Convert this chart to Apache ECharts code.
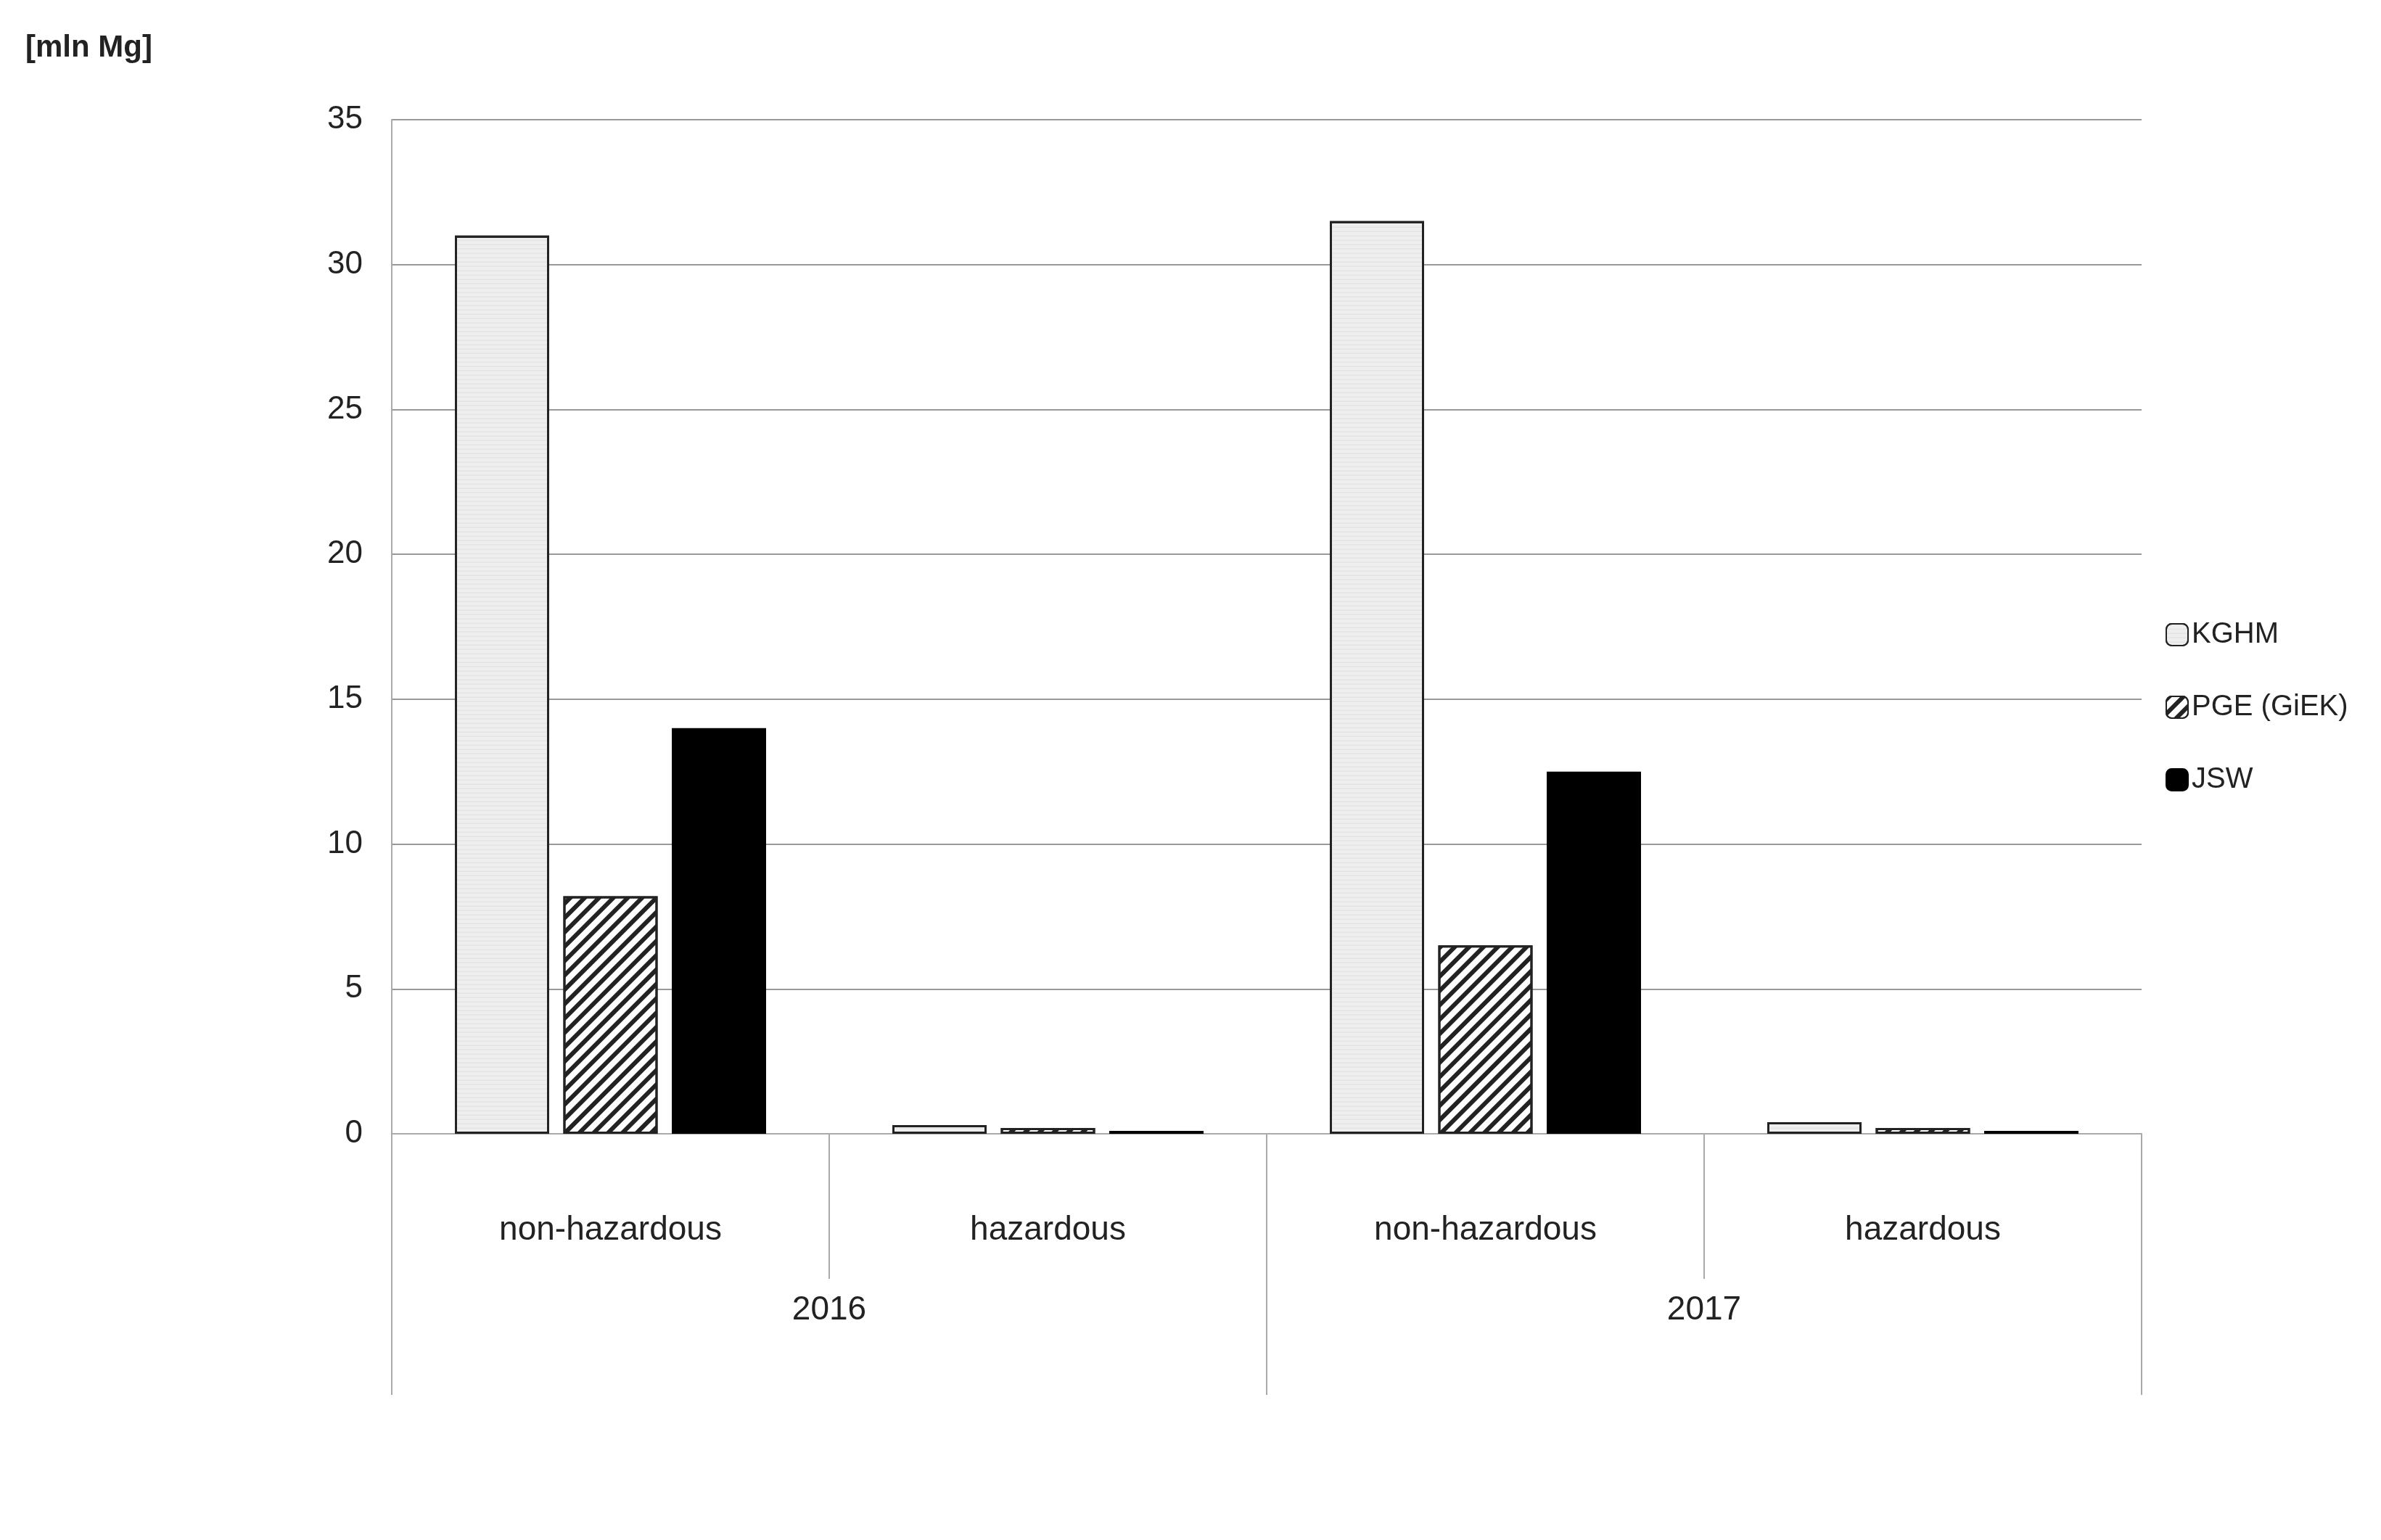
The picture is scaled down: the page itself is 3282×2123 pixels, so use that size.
<!DOCTYPE html>
<html><head><meta charset="utf-8">
<script src="https://cdn.jsdelivr.net/npm/echarts@6/dist/echarts.min.js"></script>
<style>html,body{margin:0;background:#fff}#c{width:3282px;height:2123px}</style>
</head><body><div id="c"></div>
<script>
const categories = ['non-hazardous','hazardous','non-hazardous','hazardous'];
const years = ['2016','2017'];
const kghm = [31.0, 0.3, 31.5, 0.4];
const pge = [8.2, 0.2, 6.5, 0.2];
const jsw = [14.0, 0.1, 12.5, 0.1];
const chart = echarts.init(document.getElementById('c'));
const font = 'Liberation Sans';
chart.setOption({
  backgroundColor:'#fff',
  textStyle:{fontFamily:font},
  title:{text:'[mln Mg]',left:30,top:40,textStyle:{fontSize:42,fontWeight:'bold',color:'#222',fontFamily:font}},
  legend:{orient:'vertical',left:2980,top:850,itemGap:60,itemWidth:30,itemHeight:30,
    textStyle:{fontSize:40,color:'#222'}},
  grid:{left:540,right:330,top:165,bottom:560},
  xAxis:[
    {type:'category',data:categories,position:'bottom',
     axisLine:{show:true,lineStyle:{color:'#aaa',width:2}},
     axisTick:{show:true,length:200,interval:0,alignWithLabel:false,lineStyle:{color:'#aaa',width:2}},
     axisLabel:{fontSize:46,color:'#222',margin:110,interval:0}},
    {type:'category',data:years,position:'bottom',offset:200,
     axisLine:{show:false},
     axisTick:{show:true,length:160,interval:0,lineStyle:{color:'#aaa',width:2}},
     axisLabel:{fontSize:46,color:'#222',margin:20}}
  ],
  yAxis:{type:'value',min:0,max:35,interval:5,
    axisLine:{show:true,lineStyle:{color:'#aaa',width:2}},axisTick:{show:false},
    splitLine:{lineStyle:{color:'#999',width:2}},
    axisLabel:{fontSize:44,color:'#222',margin:40}},
  series:[
    {name:'KGHM',type:'bar',data:kghm,barWidth:130,barGap:'15%',
     itemStyle:{color:'#eeeeee',borderColor:'#222',borderWidth:3,
       decal:{symbol:'circle',symbolSize:0.4,dashArrayX:[[1,0],[1,0]],dashArrayY:[2,4],color:'#777'}}},
    {name:'PGE (GiEK)',type:'bar',data:pge,barWidth:130,
     itemStyle:{color:'#ffffff',borderColor:'#222',borderWidth:3,
       decal:{symbol:'rect',rotation:-Math.PI/4,dashArrayX:[[1,0]],dashArrayY:[6,8],color:'#222'}}},
    {name:'JSW',type:'bar',data:jsw,barWidth:130,
     itemStyle:{color:'#000',borderColor:'#000',borderWidth:3}}
  ]
});
</script></body></html>
